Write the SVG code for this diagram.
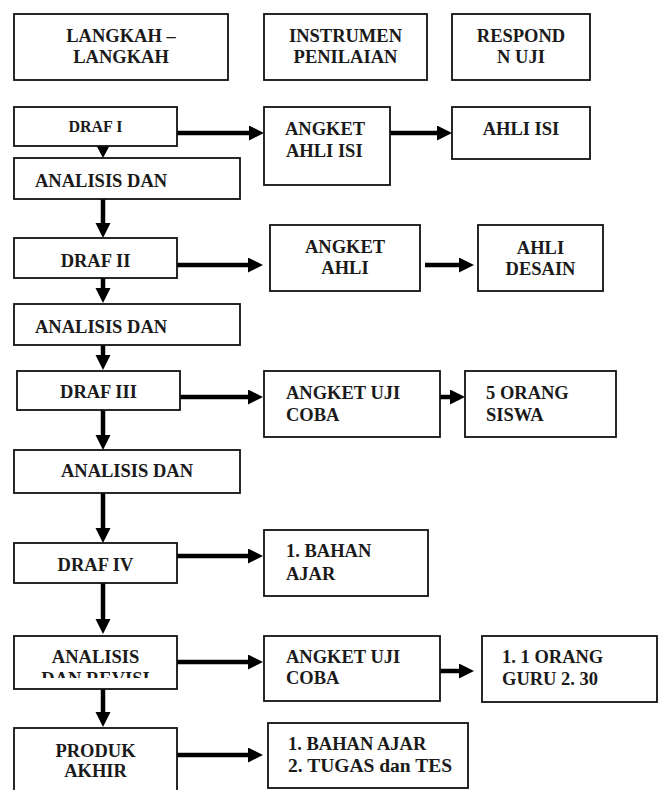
<svg xmlns="http://www.w3.org/2000/svg" width="660" height="790" viewBox="0 0 660 790">
<style>
.box{fill:#fff;stroke:#111;stroke-width:1.8}
text{font-family:'Liberation Serif','Times New Roman',serif;font-weight:bold;font-size:18.5px;fill:#1a1a1a}
.c{text-anchor:middle}
.con{stroke:#000;stroke-width:4.5;fill:none}
.head{fill:#000}
</style>
<defs>
<marker id="ah" markerUnits="userSpaceOnUse" markerWidth="16" markerHeight="16" refX="1" refY="7.5" orient="auto">
<path d="M0,0 L15,7.5 L0,15 z" class="head"/>
</marker>
<clipPath id="clipRev"><rect x="14" y="636" width="163" height="42"/></clipPath>
</defs>
<rect width="660" height="790" fill="#fff"/>
<g id="connectors">
<line class="con" x1="177" y1="133" x2="250" y2="133" marker-end="url(#ah)"/>
<line class="con" x1="390" y1="133" x2="438" y2="133" marker-end="url(#ah)"/>
<polygon class="head" points="95,143 111,143 103,158"/>
<line class="con" x1="103" y1="199" x2="103" y2="224" marker-end="url(#ah)"/>
<line class="con" x1="177" y1="265" x2="249" y2="265" marker-end="url(#ah)"/>
<line class="con" x1="425" y1="265" x2="460" y2="265" marker-end="url(#ah)"/>
<line class="con" x1="103" y1="278" x2="103" y2="289" marker-end="url(#ah)"/>
<line class="con" x1="103" y1="345" x2="103" y2="356" marker-end="url(#ah)"/>
<line class="con" x1="180" y1="397" x2="249" y2="397" marker-end="url(#ah)"/>
<line class="con" x1="440" y1="397" x2="451" y2="397" marker-end="url(#ah)"/>
<line class="con" x1="103" y1="410" x2="103" y2="436" marker-end="url(#ah)"/>
<line class="con" x1="103" y1="493" x2="103" y2="529" marker-end="url(#ah)"/>
<line class="con" x1="177" y1="556" x2="249" y2="556" marker-end="url(#ah)"/>
<line class="con" x1="103" y1="583" x2="103" y2="620" marker-end="url(#ah)"/>
<line class="con" x1="177" y1="662" x2="249" y2="662" marker-end="url(#ah)"/>
<line class="con" x1="440" y1="671" x2="460" y2="671" marker-end="url(#ah)"/>
<line class="con" x1="103" y1="689" x2="103" y2="713" marker-end="url(#ah)"/>
<line class="con" x1="177" y1="755" x2="249" y2="755" marker-end="url(#ah)"/>
</g>
<g id="h-langkah"><rect class="box" x="14" y="14" width="214" height="66"/><text class="c" x="121" y="42">LANGKAH –</text><text class="c" x="121" y="63">LANGKAH</text></g>
<g id="h-instrumen"><rect class="box" x="264" y="14" width="163" height="66"/><text class="c" x="345.5" y="42">INSTRUMEN</text><text class="c" x="345.5" y="63">PENILAIAN</text></g>
<g id="h-respond"><rect class="box" x="452" y="14" width="138" height="66"/><text class="c" x="521" y="42">RESPOND</text><text class="c" x="521" y="63">N UJI</text></g>
<g id="draf1"><rect class="box" x="14" y="107" width="163" height="39"/><text class="c" x="95.5" y="132" style="font-size:16px">DRAF I</text></g>
<g id="angket-ahli-isi"><rect class="box" x="264" y="107" width="126" height="78"/><text x="285" y="135">ANGKET</text><text x="286" y="157">AHLI ISI</text></g>
<g id="ahli-isi"><rect class="box" x="452" y="107" width="138" height="52"/><text class="c" x="521" y="135">AHLI ISI</text></g>
<g id="analisis1"><rect class="box" x="14" y="158" width="226" height="41"/><text x="35" y="187">ANALISIS DAN</text></g>
<g id="draf2"><rect class="box" x="14" y="238" width="163" height="40"/><text class="c" x="95.5" y="267">DRAF II</text></g>
<g id="angket-ahli"><rect class="box" x="270" y="225" width="150" height="66"/><text class="c" x="345" y="253">ANGKET</text><text class="c" x="345" y="274">AHLI</text></g>
<g id="ahli-desain"><rect class="box" x="478" y="225" width="125" height="66"/><text class="c" x="540.5" y="254">AHLI</text><text class="c" x="540.5" y="275">DESAIN</text></g>
<g id="analisis2"><rect class="box" x="14" y="304" width="226" height="41"/><text x="35" y="333">ANALISIS DAN</text></g>
<g id="draf3"><rect class="box" x="17" y="371" width="163" height="39"/><text class="c" x="98.5" y="398">DRAF III</text></g>
<g id="angket-uji1"><rect class="box" x="264" y="371" width="176" height="66"/><text x="286" y="399">ANGKET UJI</text><text x="286" y="421">COBA</text></g>
<g id="lima-orang"><rect class="box" x="465" y="371" width="151" height="66"/><text x="486" y="399">5 ORANG</text><text x="486" y="421">SISWA</text></g>
<g id="analisis3"><rect class="box" x="14" y="450" width="226" height="43"/><text class="c" x="127" y="477">ANALISIS DAN</text></g>
<g id="draf4"><rect class="box" x="14" y="543" width="163" height="40"/><text class="c" x="95.5" y="571">DRAF IV</text></g>
<g id="bahan-ajar1"><rect class="box" x="264" y="530" width="164" height="66"/><text x="286" y="557">1. BAHAN</text><text x="286" y="580">AJAR</text></g>
<g id="analisis-revisi"><rect class="box" x="14" y="636" width="163" height="53"/><g clip-path="url(#clipRev)"><text class="c" x="95.5" y="663">ANALISIS</text><text class="c" x="95.5" y="685">DAN REVISI</text></g></g>
<g id="angket-uji2"><rect class="box" x="264" y="636" width="176" height="65"/><text x="286" y="663">ANGKET UJI</text><text x="286" y="684">COBA</text></g>
<g id="satu-orang"><rect class="box" x="482" y="636" width="175" height="66"/><text x="502" y="663">1. 1 ORANG</text><text x="502" y="685">GURU 2. 30</text></g>
<g id="produk-akhir"><rect class="box" x="14" y="728" width="163" height="80"/><text class="c" x="95.5" y="757">PRODUK</text><text class="c" x="95.5" y="777">AKHIR</text></g>
<g id="bahan-ajar2"><rect class="box" x="268" y="723" width="200" height="65"/><text x="288" y="750">1. BAHAN AJAR</text><text x="288" y="772" style="font-size:19.5px">2. TUGAS dan TES</text></g>
</svg>
